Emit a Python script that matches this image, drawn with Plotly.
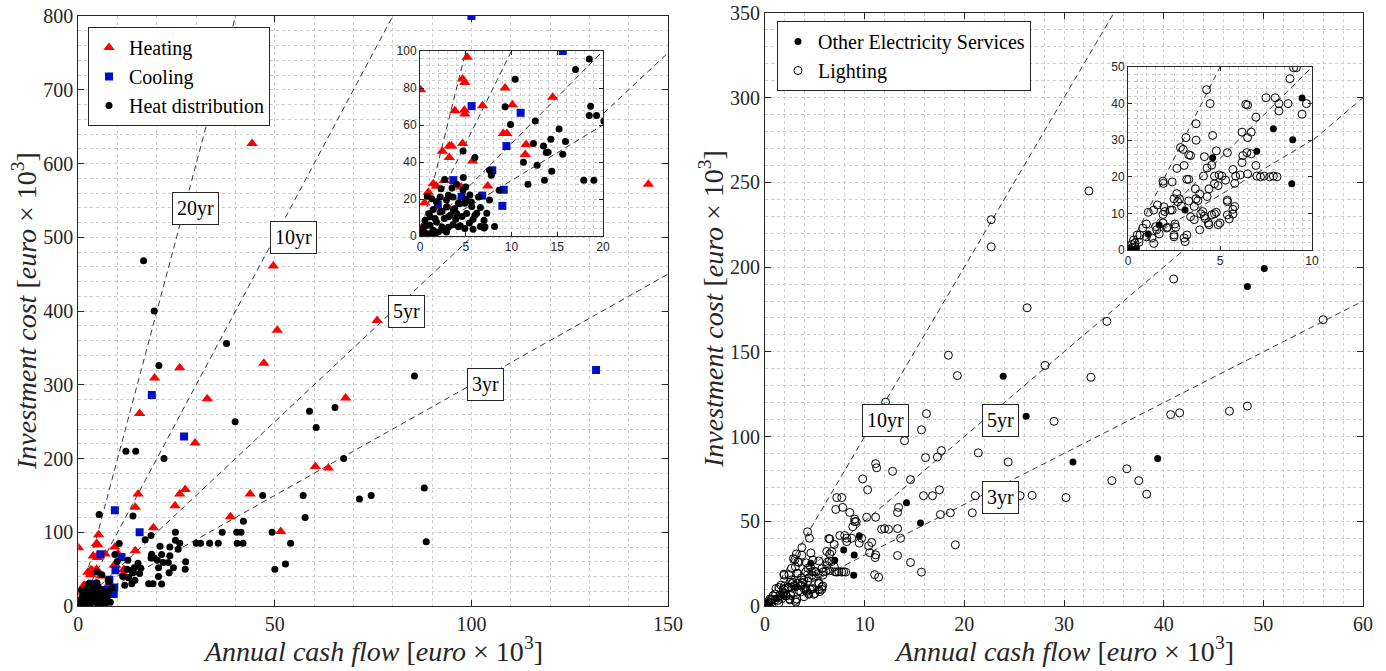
import plotly.graph_objects as go

# ---------------- data (left panel) ----------------
heat_x = [44.2, 49.6, 50.6, 47.2, 25.8, 19.4, 15.6, 32.8, 29.7, 68.0, 76.0, 145.0,
          60.3, 63.6, 43.7, 38.7, 51.5, 27.2, 25.8, 24.6, 15.2, 14.5, 19.1,
          5.16, 4.65, 4.9, 3.8, 4.84, 4.9, 6.84, 9.3, 10.1, 9.1, 9.5, 11.6, 11.5, 14.5,
          3.2, 3.45, 4.65, 2.44, 3.2, 5.75, 2.65, 1.45, 1.8, 0.9, 4.5, 7.4, 3.0, 1.9,
          0.05, 0.5, 0.4]
heat_y = [627, 461, 374, 329, 323, 309, 261, 281, 221, 282, 387, 572,
          189, 187, 152, 121, 101, 158, 152, 136, 152, 134, 106,
          96.6, 84.8, 83, 67.7, 68, 65.9, 70.4, 80, 71, 55.4, 55.4, 49.5, 44, 75,
          48.7, 48.7, 50, 45.8, 42.4, 40.6, 30, 28.3, 26.9, 23.6, 26.5, 27, 16, 16,
          79, 18, 6]

cool_x = [100.0, 131.7, 18.7, 26.9, 9.3, 15.6, 5.64, 11.0, 9.45, 7.9, 3.64, 4.55,
          6.8, 9.15, 9.0, 1.95]
cool_y = [800, 320, 286, 230, 130, 100, 70.2, 66.6, 48.6, 35.5, 30.2, 21.2,
          21.8, 25, 16.3, 17]

dist_x = [16.6, 19.3, 20.5, 21.8, 37.7, 39.9, 58.8, 65.3, 60.5, 67.5, 85.5, 88.0, 88.5,
          71.5, 74.5, 46.9, 57.2, 57.7, 42.0, 40.3, 41.4, 36.6, 49.3, 40.4, 41.9, 30.0,
          31.1, 33.4, 35.6, 54.0, 50.0, 52.7, 12.1, 14.6, 5.3, 13.9, 24.7, 24.7, 20.8,
          23.3, 25.4, 21.2, 23.3, 20.1, 21.6, 22.9, 20.4, 24.2, 23.1, 20.4, 27.3, 21.2,
          27.2, 25.8,
          10.4, 17.0, 18.5, 18.65, 18.5, 19.3, 9.3, 9.9, 12.6, 14.3, 15.9, 15.2, 15.6,
          12.4, 13.5, 13.8, 14.0, 11.3, 12.8, 11.8, 13.6, 14.4, 17.9, 19.0, 4.7, 6.0,
          7.6, 7.8, 8.65, 4.73, 2.7, 2.3, 5.0, 7.0, 8.15, 7.0, 5.4, 4.4, 6.0, 4.3, 5.0,
          5.45, 5.6, 3.6, 3.1, 2.2, 1.3, 0.8, 4.0, 3.3, 2.65, 2.2, 1.45, 1.0, 0.55, 0.44,
          0.2, 0.7, 1.8, 2.4, 1.45, 2.9, 3.6, 4.9, 1.1, 2.0, 3.8, 2.9, 5.1, 6.4, 4.7,
          5.65, 6.2, 7.3, 7.1, 4.2, 3.1, 2.55, 1.3, 0.05, 0.73, 1.1, 1.64, 2.4, 3.1,
          3.64, 4.2, 4.9, 3.5, 4.0, 2.9, 1.8, 0.3, 0.9, 1.6, 6.6, 5.8, 3.9, 4.6, 5.8,
          6.6, 7.6]
dist_y = [468, 400, 326, 200, 356, 250, 264, 269, 242, 200, 312, 160, 87,
          145, 150, 150, 150, 120, 115, 100, 100, 100, 100, 85, 85, 85,
          85, 85, 85, 85, 50, 57, 210, 210, 124, 122, 100, 89, 81,
          80, 77, 70, 68, 62, 59, 59, 52, 52, 45, 40, 60, 30,
          50, 85,
          84.7, 90, 95.7, 70.2, 65.2, 65.2, 69.9, 60.3, 62.1, 52.3, 51.1, 57.9, 44.2,
          50, 48.6, 45.1, 45.3, 39.9, 38.3, 28, 30.1, 35, 30.1, 30.1, 46, 42.4,
          35.6, 32.9, 24.7, 31.6, 30.5, 25.6, 26.5, 8.5, 5.2, 4.3, 7, 5.6, 11.2, 17.5, 19.7,
          22.2, 18.4, 21.1, 22, 21.1, 20.2, 21.5, 12.1, 11.2, 9.4, 13, 14.3, 12.1, 8.5, 4.9,
          2.2, 1.3, 7.6, 4.9, 3.1, 2.2, 6.1, 4.0, 5.8, 2.2, 14.8, 15.7, 12.1, 21.1, 24.9,
          15.9, 12.3, 12.3, 5.0, 5.0, 4.7, 3.2, 1.4, 3.2, 5.9, 10.4, 9.5, 13.2, 10.4,
          14.1, 17.7, 17.7, 26, 28, 19.5, 18.5, 0.5, 0.8, 0.9, 5.1, 3.7, 9.0, 10.5, 9.0,
          15.4, 19.5]

# ---------------- data (right panel) ----------------
other_x = [23.9, 26.2, 48.4, 50.1, 30.9, 39.4, 14.2, 15.6, 9.46, 7.9, 8.95, 7.0, 8.9,
           4.6, 3.1, 1.7, 1.1, 0.1, 0.45]
other_y = [135.6, 112, 188.6, 199.2, 85, 87, 61, 49, 41.5, 33.1, 30.1, 27, 18.1,
           25.2, 10.9, 6.8, 4.4, 0.35, 0.35]

light_x = [32.5, 22.7, 22.7, 26.3, 41.0, 34.3, 56.0, 18.4, 19.3, 28.1, 32.7, 29.0, 40.7,
           41.6, 46.6, 48.4, 36.3, 34.8, 37.5, 38.3, 30.2, 19.1,
           12.1, 16.2, 15.7, 14.0, 16.1, 17.7, 17.3, 21.4, 24.4, 11.1, 11.2, 12.8, 9.8,
           14.6, 10.3, 15.9, 16.8, 17.5, 21.1, 25.6, 26.8, 13.4, 13.3, 17.6, 18.6, 20.8,
           11.1, 10.2, 8.5, 9.0, 12.0, 11.7, 12.4, 13.3, 10.7, 11.1, 13.3, 13.6, 14.6,
           15.7, 11.0, 11.4, 7.2, 7.7, 7.1, 7.8, 10.4, 10.5,
           4.27, 4.46, 3.7, 3.15, 3.7, 2.85, 3.0, 3.4, 2.66, 3.05, 3.2, 1.9, 2.4, 4.6,
           4.8, 4.15, 4.3, 4.1, 4.7, 5.1, 4.7, 4.9, 4.4, 4.3, 3.7, 3.3, 3.66, 2.5, 2.7,
           2.9, 2.3, 1.95, 1.6, 1.4, 1.1, 1.9, 2.15, 2.5, 3.05, 3.2, 3.6, 3.95, 4.15,
           4.37, 4.7, 4.9, 4.8, 5.5, 5.7, 5.4, 5.4, 5.7, 5.85, 6.2, 6.24, 6.46, 6.2,
           6.4, 6.5, 6.5, 6.95, 7.0, 7.4, 7.9, 6.95, 8.2, 8.7, 8.8, 9.0, 9.15, 9.46,
           11.05, 1.0, 0.8, 0.5, 0.3, 0.2, 0.6, 1.3, 1.7, 1.5, 1.9, 2.6, 3.3, 3.3, 4.55,
           4.95, 5.8, 5.3, 3.9, 3.8, 3.6, 3.4, 2.4, 2.0, 2.55, 2.1, 1.56, 1.4, 1.0,
           0.65, 0.38, 3.1, 2.5, 1.92, 2.65, 2.8, 4.06, 4.55, 4.2, 5.4, 5.4, 5.8, 6.1,
           3.9, 4.4, 5.0, 5.7, 0.05, 0.2, 0.4, 6.5, 7.5, 8.0, 8.2, 6.7, 6.7, 7.2, 7.7,
           8.1, 9.7]
light_y = [245, 228, 212, 176, 193, 168, 169, 148, 136, 142, 135, 109, 113,
           114, 115, 118, 81, 74, 74, 66, 64, 36.1,
           120.3, 113.5, 104, 97.6, 87.6, 91.7, 87.9, 90.4, 85.0, 84.0, 81.6, 79.5, 75,
           74.6, 68.6, 65.1, 65.1, 68.6, 65.1, 65.1, 65.3, 58.2, 55.2, 54, 55, 55,
           52.4, 52.4, 55.2, 51.3, 45.7, 45.3, 45.3, 45.7, 37.5, 30.2, 29.8, 40, 25.7,
           20, 18.5, 17, 64, 64, 57, 58.2, 35.5, 31.5,
           43.8, 40, 34.5, 30.7, 30, 28, 27.5, 25.8, 22.3, 23.1, 19.3, 18.8, 18.6, 31.3,
           27.1, 25.5, 22.4, 20.2, 20.2, 20.2, 18.1, 17.6, 16.7, 14.6, 14, 13.4, 16.7, 14,
           13.2, 12, 10.9, 11.8, 12.3, 10.9, 10.3, 9.7, 6.2, 3.6, 3.3, 4.1, 8.3, 9.9,
           9.3, 7.4, 9.9, 6.9, 10.3, 8.5, 11.1, 13.2, 26.6, 22, 20.2, 23.9, 25.8, 26.6,
           32.2, 39.8, 30.7, 20.8, 23.1, 20.2, 20.2, 20.2, 36.3, 40, 40, 46.8, 49.8,
           49.8, 37.1, 28.6, 7.1, 6, 4.1, 2.7, 1.5, 2.1, 3.3, 4.4, 6.4, 7.4, 6.2, 26,
           19.3, 23.2, 20.5, 18.2, 19.1, 15.3, 13.5, 11.9, 9.1, 10.9, 10.5, 7.1, 6,
           5.5, 1.8, 3.6, 4.1, 1.9, 2.3, 4.1, 18.2, 15.4, 14, 10.5, 9.6, 8.6, 13.6,
           9.6, 11.9, 20.5, 5.5, 6.9, 7.4, 9.8, 0.2, 0.6, 0.9, 39.6, 41.6, 41.6, 38,
           32.2, 26.3, 20, 20, 20, 40]

payback_left = [20, 10, 5, 3]
payback_right = [10, 5, 3]
labels_left = ["20yr", "10yr", "5yr", "3yr"]
labels_left_x = [29.9, 54.8, 83.5, 103.6]
labels_left_y = [539, 500, 400, 300]
labels_right = ["10yr", "5yr", "3yr"]
labels_right_x = [12.1, 23.6, 23.6]
labels_right_y = [109.3, 109.3, 63.9]

# ---------------- styling ----------------
SERIF = "Liberation Serif, Times New Roman, DejaVu Serif, serif"
SANS = "Liberation Sans, Arial, DejaVu Sans, sans-serif"
AX = "#262626"
GRID = "#cfcfcf"
RED = "#ff0000"
BLUE = "#0010c8"

# body margin is removed by a post script, so the figure fills the window
W, H = 1386, 671


def PX(px):
    return px / W


def PY(py):
    return (H - py) / H


fig = go.Figure()


def ray(T, xmax, ymax):
    xe = min(xmax, ymax / T)
    return [0, xe], [0, T * xe]


def add_lines(years, xmax, ymax, xa, ya):
    for T in years:
        xs, ys = ray(T, xmax, ymax)
        fig.add_trace(go.Scatter(x=xs, y=ys, mode="lines", xaxis=xa, yaxis=ya,
                                 line=dict(color="#3a3a3a", width=1, dash="6px,4px"),
                                 showlegend=False, hoverinfo="skip"))


def add_left(xa, ya, legend):
    fig.add_trace(go.Scatter(x=heat_x, y=heat_y, mode="markers", name="Heating",
                             xaxis=xa, yaxis=ya, showlegend=legend, legend="legend",
                             marker=dict(symbol="triangle-up", size=10, color=RED)))
    fig.add_trace(go.Scatter(x=cool_x, y=cool_y, mode="markers", name="Cooling",
                             xaxis=xa, yaxis=ya, showlegend=legend, legend="legend",
                             marker=dict(symbol="square", size=8, color=BLUE)))
    fig.add_trace(go.Scatter(x=dist_x, y=dist_y, mode="markers", name="Heat distribution",
                             xaxis=xa, yaxis=ya, showlegend=legend, legend="legend",
                             marker=dict(symbol="circle", size=7, color="black")))


def add_right(xa, ya, legend):
    fig.add_trace(go.Scatter(x=other_x, y=other_y, mode="markers",
                             name="Other Electricity Services",
                             xaxis=xa, yaxis=ya, showlegend=legend, legend="legend2",
                             marker=dict(symbol="circle", size=7, color="black")))
    fig.add_trace(go.Scatter(x=light_x, y=light_y, mode="markers", name="Lighting",
                             xaxis=xa, yaxis=ya, showlegend=legend, legend="legend2",
                             marker=dict(symbol="circle-open", size=8, color="black",
                                         line=dict(width=1, color="black"))))


add_lines(payback_left, 150, 800, "x", "y")
add_left("x", "y", True)
add_lines(payback_right, 60, 350, "x2", "y2")
add_right("x2", "y2", True)
add_lines(payback_left, 20, 100, "x3", "y3")
add_left("x3", "y3", False)
add_lines(payback_right, 10, 50, "x4", "y4")
add_right("x4", "y4", False)


def axis(domain, rng, dtick, minor, font, anchor, ticklen=6):
    return dict(domain=domain, range=rng, dtick=dtick, tick0=0, anchor=anchor,
                automargin=False, ticklabeloverflow="allow",
                ticks="inside", ticklen=ticklen, tickcolor=AX, tickwidth=1,
                showline=True, linecolor=AX, linewidth=1, mirror="ticks",
                showgrid=True, gridcolor=GRID, griddash="dot", gridwidth=1,
                zeroline=False, tickfont=font, fixedrange=True,
                minor=dict(dtick=minor, showgrid=True, gridcolor=GRID,
                           griddash="dot", gridwidth=1, ticks=""))


main_font = dict(family=SERIF, size=20, color=AX)
inset_font = dict(family=SANS, size=12, color=AX)

fig.update_layout(
    template="none",
    width=W, height=H, margin=dict(l=0, r=0, t=0, b=0, pad=0),
    paper_bgcolor="white", plot_bgcolor="white",
    hovermode=False,
    xaxis=axis([PX(78.3), PX(668)], [0, 150], 50, 10, main_font, "y"),
    yaxis=axis([PY(606), PY(16)], [0, 800], 100, 20, main_font, "x"),
    xaxis2=axis([PX(765), PX(1363)], [0, 60], 10, 2, main_font, "y2"),
    yaxis2=axis([PY(606), PY(13)], [0, 350], 50, 10, main_font, "x2"),
    xaxis3=axis([PX(420), PX(603)], [0, 20], 5, 1, inset_font, "y3", 4),
    yaxis3=axis([PY(236), PY(51)], [0, 100], 20, 4, inset_font, "x3", 4),
    xaxis4=axis([PX(1128), PX(1312)], [0, 10], 5, 0.5, inset_font, "y4", 4),
    yaxis4=axis([PY(250), PY(67)], [0, 50], 10, 2, inset_font, "x4", 4),
    legend=dict(x=PX(88), y=PY(27), xanchor="left", yanchor="top",
                bgcolor="white", bordercolor=AX, borderwidth=1,
                font=dict(family=SERIF, size=20, color="black"),
                tracegroupgap=0, itemwidth=30),
    legend2=dict(x=PX(777), y=PY(21), xanchor="left", yanchor="top",
                 bgcolor="white", bordercolor=AX, borderwidth=1,
                 font=dict(family=SERIF, size=20, color="black"),
                 tracegroupgap=0, itemwidth=30),
    showlegend=True,
)

for t, lx, ly in zip(labels_left, labels_left_x, labels_left_y):
    fig.add_annotation(x=lx, y=ly, xref="x", yref="y", text=t, showarrow=False,
                       bgcolor="white", bordercolor=AX, borderwidth=1, borderpad=4,
                       font=dict(family=SERIF, size=20, color="black"))
for t, lx, ly in zip(labels_right, labels_right_x, labels_right_y):
    fig.add_annotation(x=lx, y=ly, xref="x2", yref="y2", text=t, showarrow=False,
                       bgcolor="white", bordercolor=AX, borderwidth=1, borderpad=4,
                       font=dict(family=SERIF, size=20, color="black"))

xt = "<i>Annual cash flow</i> [<i>euro</i> × 10<sup>3</sup>]"
yt = "<i>Investment cost</i> [<i>euro</i> × 10<sup>3</sup>]"
tfont = dict(family=SERIF, size=28, color=AX)
fig.add_annotation(x=PX((78.3 + 668) / 2), y=PY(649), xref="paper", yref="paper",
                   text=xt, showarrow=False, font=tfont, xanchor="center", yanchor="middle")
fig.add_annotation(x=PX((765 + 1363) / 2), y=PY(649), xref="paper", yref="paper",
                   text=xt, showarrow=False, font=tfont, xanchor="center", yanchor="middle")
fig.add_annotation(x=PX(24), y=PY(311), xref="paper", yref="paper", text=yt,
                   textangle=-90, showarrow=False, font=tfont,
                   xanchor="center", yanchor="middle")
fig.add_annotation(x=PX(711), y=PY(309), xref="paper", yref="paper", text=yt,
                   textangle=-90, showarrow=False, font=tfont,
                   xanchor="center", yanchor="middle")

fig.write_html(
    "out.html",
    config={"displayModeBar": False, "staticPlot": True},
    post_script="document.body.style.margin='0';document.body.style.overflow='hidden';",
)
